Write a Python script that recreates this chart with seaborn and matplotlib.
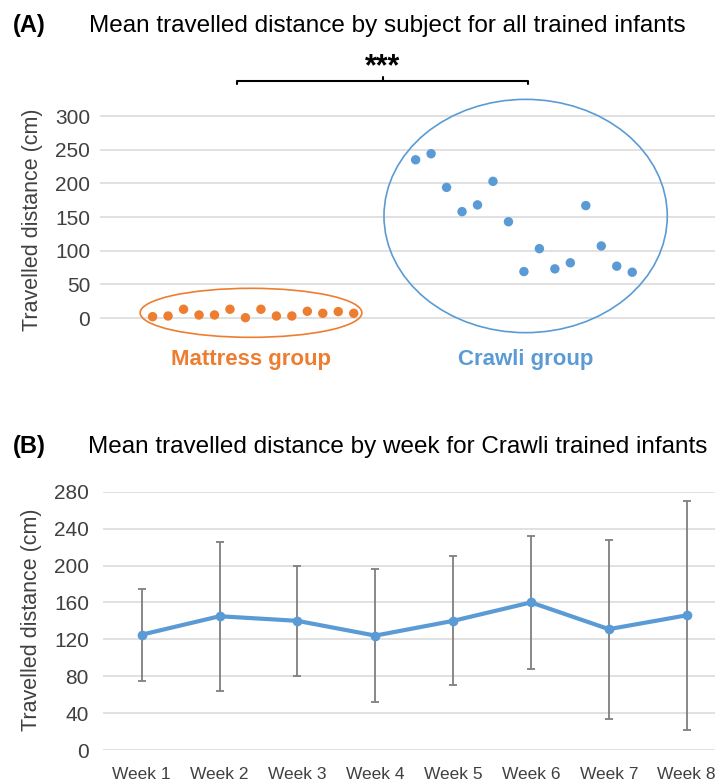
import numpy as np
import pandas as pd
import seaborn as sns
import matplotlib.pyplot as plt
from matplotlib.patches import Ellipse

# dados
mattress_vals = [2, 3, 13, 4.5, 4.5, 13, 0.5, 13, 3, 3, 10, 7, 9.5, 7]
crawli_vals = [235, 244, 194, 158, 168, 203, 143, 69, 103, 73, 82, 167, 107, 77, 68]
mattress_subj = list(range(1, 15))
crawli_subj = list(range(18, 33))

weeks = ["Week 1", "Week 2", "Week 3", "Week 4", "Week 5", "Week 6", "Week 7", "Week 8"]
week_mean = [125, 145, 140, 124, 140, 160, 131, 146]
week_sd = [50, 81, 60, 72, 70, 72, 97, 124]

ORANGE = "#ED7D31"
BLUE = "#5B9BD5"
GRID = "#D9D9D9"
TXT = "#404040"

sns.set_theme(style="white")
plt.rcParams['font.family'] = ['Liberation Sans', 'DejaVu Sans']

W, H = 715, 783
fig = plt.figure(figsize=(W / 100, H / 100), dpi=100)


def px(x, y):
    return x / W, 1 - y / H


# ---------- painel A ----------
axA = fig.add_axes([100 / W, 1 - 338.2 / H, 615 / W, 228.9 / H])
df_a = pd.DataFrame({
    "subject": mattress_subj + crawli_subj,
    "dist": mattress_vals + crawli_vals,
    "group": ["Mattress"] * len(mattress_vals) + ["Crawli"] * len(crawli_vals),
})
sns.scatterplot(data=df_a, x="subject", y="dist", hue="group",
                palette={"Mattress": ORANGE, "Crawli": BLUE},
                s=46, linewidth=0, legend=False, ax=axA, clip_on=False, zorder=3)
axA.set_xlim(-2.4, 37.35)
axA.set_ylim(-30, 310)
axA.set_yticks(range(0, 301, 50))
axA.set_xticks([])
axA.grid(axis="y", color=GRID, linewidth=1.1)
axA.set_axisbelow(True)
for s in axA.spines.values():
    s.set_visible(False)
axA.tick_params(axis="y", length=0, pad=7, labelsize=15, labelcolor=TXT)
axA.set_xlabel("")
axA.set_ylabel("")

axA.add_patch(Ellipse((7.36, 7.7), 14.33, 72.8, fill=False, edgecolor=ORANGE,
                      linewidth=1.2, clip_on=False))
axA.add_patch(Ellipse((25.11, 151.5), 18.31, 346.5, fill=False, edgecolor=BLUE,
                      linewidth=1.2, clip_on=False))

# colchete de significância
axA.plot([6.43, 6.43, 25.24, 25.24], [347.5, 352.4, 352.4, 347.5], color="black",
         linewidth=1.5, clip_on=False)
axA.plot([15.87, 15.87], [352.4, 358.4], color="black", linewidth=1.5, clip_on=False)
axA.text(15.87, 372, "***", ha="center", va="center", fontsize=22, fontweight="bold",
         color="black", clip_on=False)

fig.text(*px(251, 360), "Mattress group", ha="center", va="center",
         fontsize=16, fontweight="bold", color=ORANGE)
fig.text(*px(526, 360), "Crawli group", ha="center", va="center",
         fontsize=16, fontweight="bold", color=BLUE)

fig.text(*px(12.7, 25.7), "(A)", ha="left", va="center", fontsize=17,
         fontweight="bold", color="black")
fig.text(*px(89, 25.7), "Mean travelled distance by subject for all trained infants",
         ha="left", va="center", fontsize=17.5, color="black")
fig.text(*px(33, 220), "Travelled distance (cm)", rotation=90, ha="center",
         va="center", fontsize=15.5, color=TXT)

# ---------- painel B ----------
axB = fig.add_axes([102.8 / W, 1 - 750 / H, 622.8 / W, 258.3 / H])
df_b = pd.DataFrame({"week": np.arange(len(weeks)), "mean": week_mean, "sd": week_sd})
axB.errorbar(df_b["week"], df_b["mean"], yerr=df_b["sd"], fmt="none",
             ecolor="#7F7F7F", elinewidth=1.3, capsize=3, capthick=1.3, zorder=2)
sns.lineplot(data=df_b, x="week", y="mean", color=BLUE, linewidth=3,
             marker="o", markersize=7, markeredgewidth=0, ax=axB, zorder=3)
axB.set_xlim(-0.5, 7.5)
axB.set_ylim(0, 280)
axB.set_yticks(range(0, 281, 40))
axB.set_xticks(df_b["week"])
axB.set_xticklabels(weeks)
axB.grid(axis="y", color=GRID, linewidth=1.1)
axB.set_axisbelow(True)
for s in axB.spines.values():
    s.set_visible(False)
axB.tick_params(axis="y", length=0, pad=10, labelsize=15, labelcolor=TXT)
axB.tick_params(axis="x", length=0, pad=12, labelsize=12.5, labelcolor=TXT)
axB.set_xlabel("")
axB.set_ylabel("")

fig.text(*px(12.7, 446.7), "(B)", ha="left", va="center", fontsize=17,
         fontweight="bold", color="black")
fig.text(*px(88, 446.7), "Mean travelled distance by week for Crawli trained infants",
         ha="left", va="center", fontsize=17.5, color="black")
fig.text(*px(32, 620), "Travelled distance (cm)", rotation=90, ha="center",
         va="center", fontsize=15.5, color=TXT)

fig.savefig("out.png", dpi=100)
